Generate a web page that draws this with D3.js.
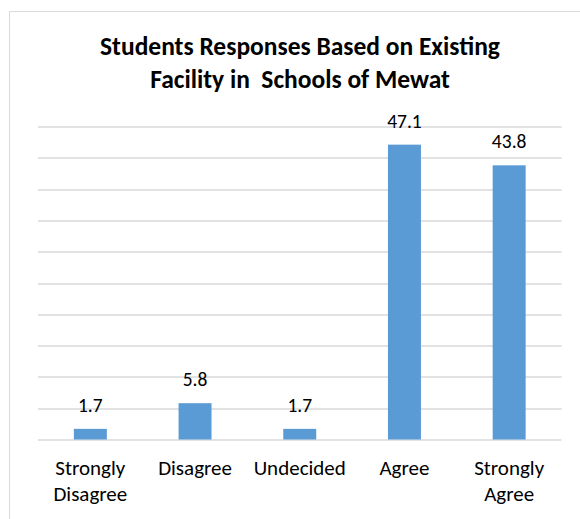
<!DOCTYPE html>
<html>
<head>
<meta charset="utf-8">
<script src="https://cdn.jsdelivr.net/npm/d3@7"></script>
<style>
  html, body { margin: 0; padding: 0; background: #fff; }
  svg { display: block; font-family: Carlito, Calibri, Lato, "Open Sans", sans-serif; }
</style>
</head>
<body>
<script>
// chart data
const categories = ["Strongly Disagree", "Disagree", "Undecided", "Agree", "Strongly Agree"];
const values = [1.7, 5.8, 1.7, 47.1, 43.8];
const yTicks = [0, 5, 10, 15, 20, 25, 30, 35, 40, 45, 50];
const titleLines = ["Students Responses Based on Existing", "Facility in  Schools of Mewat"];

const W = 580, H = 519;
const margin = {top: 126.5, right: 18.5, bottom: 79.5, left: 38};
const width = W - margin.left - margin.right,
    height = H - margin.top - margin.bottom;

const svg = d3.select("body")
  .append("svg")
    .attr("width", W)
    .attr("height", H);

// chart frame (only top and left edges visible in the crop)
svg.append("path")
    .attr("d", "M9.5,519V11.5H580")
    .attr("fill", "none")
    .attr("stroke", "#d9d9d9")
    .attr("stroke-width", 1);

// title
svg.append("text")
    .attr("x", 300)
    .attr("y", 55)
    .attr("text-anchor", "middle")
    .attr("font-weight", "bold")
    .attr("font-size", 25.5)
    .attr("fill", "#000")
  .selectAll("tspan")
  .data(titleLines)
  .join("tspan")
    .attr("x", 300)
    .attr("dy", (d, i) => i ? 33 : 0)
    .attr("xml:space", "preserve")
    .style("white-space", "pre")
    .text(d => d);

const g = svg.append("g")
    .attr("transform", `translate(${margin.left},${margin.top})`);

const x = d3.scaleBand()
    .domain(categories)
    .range([0, width])
    .paddingInner(0.685)
    .paddingOuter(0.3425);

const y = d3.scaleLinear()
    .domain([0, 50])
    .range([height, 0]);

// gridlines
g.append("g")
  .selectAll("line")
  .data(yTicks)
  .join("line")
    .attr("x1", 0)
    .attr("x2", width)
    .attr("y1", d => Math.round(y(d)) + 0.5)
    .attr("y2", d => Math.round(y(d)) + 0.5)
    .attr("stroke", "#d9d9d9")
    .attr("stroke-width", 1.5);

// bars
g.selectAll(".bar")
  .data(values)
  .join("rect")
    .attr("class", "bar")
    .attr("x", (d, i) => x(categories[i]))
    .attr("width", x.bandwidth())
    .attr("y", d => y(d))
    .attr("height", d => height - y(d))
    .attr("fill", "#5b9bd5");

// value labels
g.selectAll(".val")
  .data(values)
  .join("text")
    .attr("class", "val")
    .attr("x", (d, i) => x(categories[i]) + x.bandwidth() / 2)
    .attr("y", d => y(d) - 17)
    .attr("text-anchor", "middle")
    .attr("font-size", 19.5)
    .attr("fill", "#000")
    .text(d => d.toFixed(1));

// category labels, wrapped on two lines where needed
const xAxis = g.append("g")
    .attr("transform", `translate(0,${height})`);
xAxis.selectAll("text")
  .data(categories)
  .join("text")
    .attr("x", d => x(d) + x.bandwidth() / 2)
    .attr("y", 35)
    .attr("text-anchor", "middle")
    .attr("font-size", 21)
    .attr("fill", "#000")
  .each(function (d) {
    const words = d.split(" ");
    d3.select(this).selectAll("tspan")
      .data(words)
      .join("tspan")
        .attr("x", x(d) + x.bandwidth() / 2)
        .attr("dy", (w, i) => i ? 26 : 0)
        .text(w => w);
  });
</script>
</body>
</html>
